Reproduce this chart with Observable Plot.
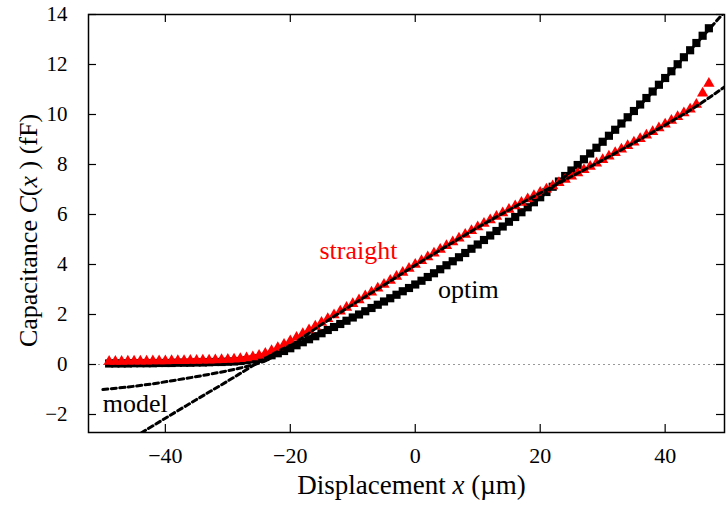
<!DOCTYPE html>
<html><head><meta charset="utf-8">
<script src="https://cdn.jsdelivr.net/npm/d3@7"></script>
<script src="https://cdn.jsdelivr.net/npm/@observablehq/plot@0.6"></script>
<style>body{margin:0;background:#fff} #chart svg{display:block}</style>
</head><body><div id="chart"></div><script>
// Displacement samples (µm)
const xPositions = [
 -49,-48,-47,-46,-45,-44,-43,-42,-41,-40,
 -39,-38,-37,-36,-35,-34,-33,-32,-31,-30,
 -29,-28,-27,-26,-25,-24,-23,-22,-21,-20,
 -19,-18,-17,-16,-15,-14,-13,-12,-11,-10,
 -9,-8,-7,-6,-5,-4,-3,-2,-1,0,
 1,2,3,4,5,6,7,8,9,10,
 11,12,13,14,15,16,17,18,19,20,
 21,22,23,24,25,26,27,28,29,30,
 31,32,33,34,35,36,37,38,39,40,
 41,42,43,44,45,46,47];
// "optim" measured capacitance (fF), black squares
const optimData = [
 0.04,0.04,0.04,0.04,0.05,0.05,0.05,0.05,0.06,0.06,
 0.06,0.07,0.07,0.07,0.08,0.08,0.09,0.10,0.10,0.11,
 0.12,0.14,0.17,0.20,0.25,0.30,0.37,0.45,0.54,0.65,
 0.77,0.89,1.01,1.13,1.25,1.38,1.50,1.62,1.75,1.88,
 2.00,2.13,2.26,2.39,2.52,2.65,2.79,2.93,3.06,3.20,
 3.35,3.50,3.65,3.81,3.97,4.13,4.29,4.46,4.63,4.80,
 4.98,5.16,5.34,5.52,5.71,5.90,6.09,6.29,6.49,6.69,
 6.90,7.11,7.32,7.54,7.76,7.98,8.21,8.44,8.67,8.91,
 9.15,9.39,9.64,9.89,10.14,10.40,10.66,10.92,11.19,11.46,
 11.73,12.01,12.29,12.57,12.86,13.15,13.45];
// "straight" measured capacitance (fF), red triangles
const straightData = [
 0.12,0.12,0.12,0.13,0.13,0.13,0.13,0.14,0.14,0.14,
 0.15,0.15,0.15,0.16,0.16,0.17,0.17,0.18,0.19,0.20,
 0.21,0.23,0.26,0.30,0.36,0.44,0.55,0.67,0.80,0.94,
 1.08,1.23,1.38,1.53,1.68,1.83,1.98,2.13,2.28,2.43,
 2.58,2.74,2.89,3.05,3.20,3.36,3.52,3.68,3.84,4.00,
 4.15,4.30,4.45,4.60,4.75,4.90,5.05,5.20,5.35,5.50,
 5.64,5.78,5.92,6.06,6.20,6.34,6.48,6.62,6.75,6.88,
 7.01,7.14,7.27,7.40,7.53,7.66,7.79,7.92,8.05,8.19,
 8.33,8.47,8.61,8.75,8.89,9.03,9.17,9.31,9.46,9.61,
 9.76,9.91,10.06,10.21,10.40,10.85,11.24];
// model curve for optim (dashed)
const optimModelX = [-45,-43.5,-40,-35,-30,-25,-22,-20,-15,-10,-5,0,5,10,15,20,25,30,35,40,45,49.5];
const optimModelY = [-2.9,-2.68,-2.15,-1.4,-0.66,0.1,0.52,0.76,1.33,1.92,2.53,3.2,3.95,4.78,5.69,6.67,7.74,8.9,10.12,11.44,12.84,14.1];
// model curve for straight (dashed)
const straightModelX = [-50,-46,-42,-38,-34,-30,-28,-26,-25,-24,-23,-22,-21,-20,-18,-15,-10,-5,0,5,10,15,20,25,30,35,40,45,49.5];
const straightModelY = [-1.0,-0.9,-0.77,-0.61,-0.44,-0.25,-0.14,-0.02,0.06,0.15,0.27,0.41,0.57,0.74,1.08,1.6,2.4,3.18,3.97,4.73,5.48,6.18,6.86,7.52,8.18,8.87,9.58,10.33,11.1];
const xTicks = [-40,-20,0,20,40];
const yTicks = [-2,0,2,4,6,8,10,12,14];

const optim = xPositions.map((x,i)=>({x, y: optimData[i]}));
const straight = xPositions.map((x,i)=>({x, y: straightData[i]}));
const optimModel = optimModelX.map((x,i)=>({x, y: optimModelY[i]}));
const straightModel = straightModelX.map((x,i)=>({x, y: straightModelY[i]}));

const W=726, H=513, mL=88, mR=2, mT=14, mB=81;
const innerW = W-mL-mR, innerH = H-mT-mB;
const serif = "'Liberation Serif', 'Times New Roman', serif";

const chart = Plot.plot({
  width: W, height: H,
  marginLeft: mL, marginRight: mR, marginTop: mT, marginBottom: mB,
  style: {fontFamily: serif, fontSize: "22px", color: "#000", background: "#fff"},
  x: {domain: [-52.3, 49.5]},
  y: {domain: [-2.72, 14]},
  marks: [
    Plot.ruleY([0], {stroke: "#999", strokeDasharray: "2,3", strokeWidth: 1}),
    Plot.dot(optim, {x: "x", y: "y", symbol: "square", r: 4.6, fill: "#000", stroke: "none"}),
    Plot.dot(straight, {x: "x", y: "y", symbol: "triangle", r: 4.2, fill: "#ff0000", stroke: "none"}),
    Plot.line(optimModel, {x: "x", y: "y", stroke: "#000", strokeWidth: 3, strokeDasharray: "5,3.5", curve: "catmull-rom", clip: true}),
    Plot.line(straightModel, {x: "x", y: "y", stroke: "#000", strokeWidth: 3, strokeDasharray: "5,3.5", curve: "catmull-rom", clip: true}),
    Plot.tickX(xTicks, {x: d => d, insetTop: innerH - 8, stroke: "#000", strokeWidth: 1.2}),
    Plot.tickX(xTicks, {x: d => d, insetBottom: innerH - 8, stroke: "#000", strokeWidth: 1.2}),
    Plot.tickY(yTicks, {y: d => d, insetRight: innerW - 8, stroke: "#000", strokeWidth: 1.2}),
    Plot.tickY(yTicks, {y: d => d, insetLeft: innerW - 8, stroke: "#000", strokeWidth: 1.2}),
    Plot.frame({stroke: "#000", strokeWidth: 1.5}),
    Plot.axisX(xTicks, {tickSize: 0, tickPadding: 15, label: null, fontSize: 22}),
    Plot.axisY(yTicks, {tickSize: 0, tickPadding: 21, label: null, fontSize: 21}),
    Plot.text(["Displacement x (µm)"], {frameAnchor: "bottom", textAnchor: "middle", dy: 61, dx: 5, fontSize: 27, text: d => d}),
    Plot.text(["Capacitance C(x) (fF)"], {frameAnchor: "left", textAnchor: "middle", rotate: -90, dx: -60, dy: 7, fontSize: 26, text: d => d}),
    Plot.text(["straight"], {x: -9.1, y: 4.56, text: d => d, fill: "#ff0000", fontSize: 26}),
    Plot.text(["optim"], {x: 8.5, y: 3.0, text: d => d, fill: "#000", fontSize: 26}),
    Plot.text(["model"], {x: -44.8, y: -1.56, text: d => d, fill: "#000", fontSize: 26})
  ]
});
document.getElementById("chart").appendChild(chart);

// italicize math symbols in axis labels
function italicize(full, parts) {
  d3.select(chart).selectAll("text").each(function() {
    if (this.textContent === full) {
      const sel = d3.select(this);
      sel.text(null);
      parts.forEach(([s, it]) => {
        const t = sel.append("tspan").text(s);
        if (it) t.attr("font-style", "italic");
      });
    }
  });
}
italicize("Displacement x (µm)", [["Displacement ", false], ["x", true], [" (µm)", false]]);
italicize("Capacitance C(x) (fF)", [["Capacitance ", false], ["C", true], ["(", false], ["x", true], [" ) (fF)", false]]);
</script></body></html>
